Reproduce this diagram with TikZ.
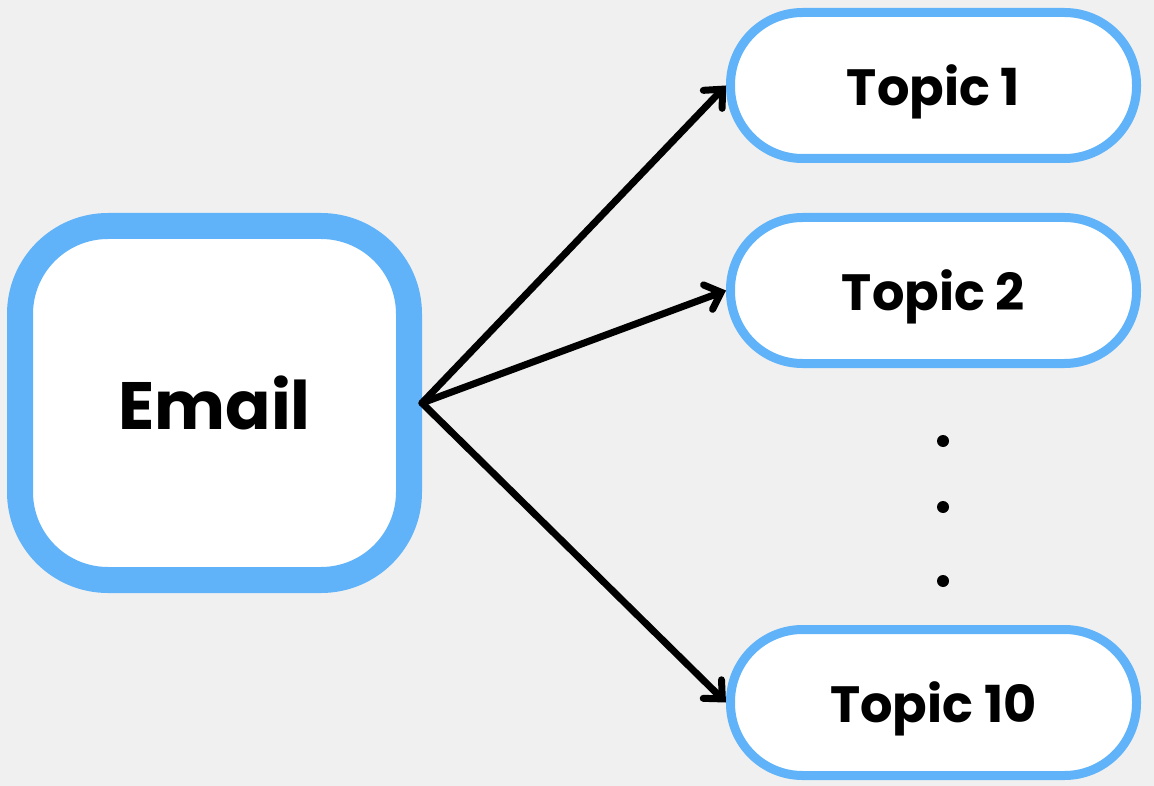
\documentclass[tikz,border=0pt]{standalone}
\usepackage{fontspec}
\setmainfont{Poppins}
\usepackage{tikz}
\usetikzlibrary{arrows.meta}

\definecolor{skyblue}{HTML}{60B3F8}
\definecolor{paper}{HTML}{F0F0F0}

\begin{document}
\begin{tikzpicture}[x=1pt, y=-1pt,
    emailbox/.style={draw=skyblue, fill=white, line width=26pt, rounded corners=88pt,
        minimum width=389pt, minimum height=354pt, font=\fontsize{67}{70}\selectfont\bfseries},
    topicbox/.style={draw=skyblue, fill=white, line width=9pt, rounded corners=72pt,
        minimum width=406pt, minimum height=146pt, text depth=0pt,
        font=\fontsize{51}{55}\selectfont\bfseries},
    link/.style={line width=7pt, line cap=round, -{Straight Barb[length=14pt, width=26pt, line cap=round]}}]
    % BACKGROUND
    \fill[paper] (0,0) rectangle (1154,786);
    \useasboundingbox (0,0) rectangle (1154,786);

    % SOURCE box
    \node[emailbox] (email) at (214.5,403) {Email};

    % TOPIC boxes
    \node[topicbox] (topic1) at (933.5,85.5) {Topic 1};
    \node[topicbox] (topic2) at (933.5,290.5) {Topic 2};
    \node[topicbox] (topic10) at (933.5,702.5) {Topic 10};

    % Skipped topics
    \foreach \y in {441,507,581} {
        \fill (943,\y) circle (6pt);
    }

    % Arrows out of the email
    \foreach \t in {topic1,topic2,topic10} {
        \draw[link] (email.east) -- (\t.west);
    }
\end{tikzpicture}
\end{document}
